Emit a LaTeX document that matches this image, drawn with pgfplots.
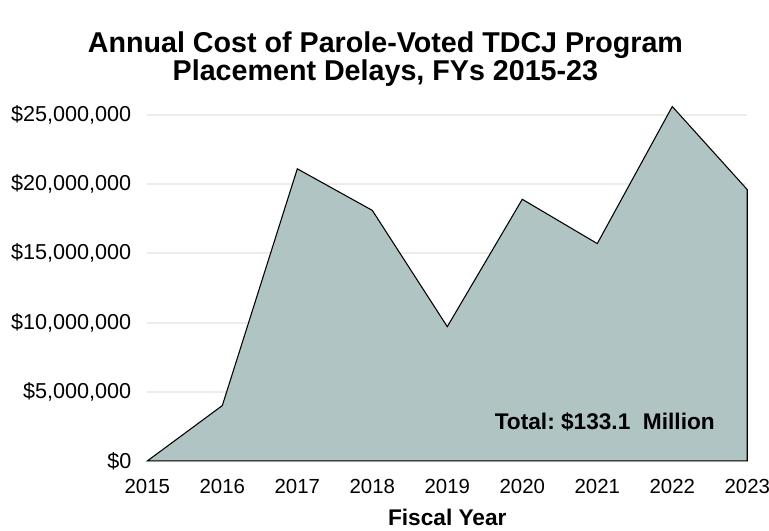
\documentclass[border=0pt]{standalone}
\usepackage{fontspec}
\setmainfont{Liberation Sans}
\usepackage{pgfplots}
\pgfplotsset{compat=1.18}
\definecolor{areafill}{RGB}{176,196,196}
\definecolor{gridc}{RGB}{238,236,232}

\begin{document}
\begin{tikzpicture}
\path[use as bounding box] (-110.5pt,-52.5pt) rectangle (466.3pt,345.75pt);
\begin{axis}[
  at={(0,0)}, anchor=south west,
  scale only axis,
  width=450pt, height=270pt,
  xmin=2015, xmax=2023,
  ymin=0, ymax=26e6,
  clip=false,
  scaled y ticks=false,
  axis line style={draw=none},
  tick style={draw=none},
  xtick={2015,2016,2017,2018,2019,2020,2021,2022,2023},
  xticklabels={2015,2016,2017,2018,2019,2020,2021,2022,2023},
  ytick={0,5e6,10e6,15e6,20e6,25e6},
  yticklabels={{\$0},{\$5,000,000},{\$10,000,000},{\$15,000,000},{\$20,000,000},{\$25,000,000}},
  yticklabel style={font=\fontsize{16.2}{18}\selectfont},
  xticklabel style={font=\fontsize{15.3}{18}\selectfont},
  yticklabel shift=8.5pt,
  xticklabel shift=10pt,
  ymajorgrids=true,
  grid style={gridc, line width=1.5pt},
  xlabel={\bfseries Fiscal Year},
  xlabel style={font=\fontsize{17}{20}\selectfont, yshift=-5pt},
]
\addplot[fill=areafill, draw=black, line width=0.8pt] coordinates {
  (2015,0) (2016,4.0e6) (2017,21.1e6) (2018,18.1e6) (2019,9.7e6)
  (2020,18.9e6) (2021,15.7e6) (2022,25.6e6) (2023,19.6e6)
} \closedcycle;
\node[font=\bfseries\fontsize{17}{20}\selectfont] at (axis cs:2021.1,2.84e6) {Total:\ \$133.1\ \ Million};
\end{axis}
\node[font=\bfseries\fontsize{21.5}{21}\selectfont, align=center] at (178.6pt,301.5pt)
  {Annual Cost of Parole-Voted TDCJ Program\\Placement Delays, FYs 2015-23};
\end{tikzpicture}
\end{document}
